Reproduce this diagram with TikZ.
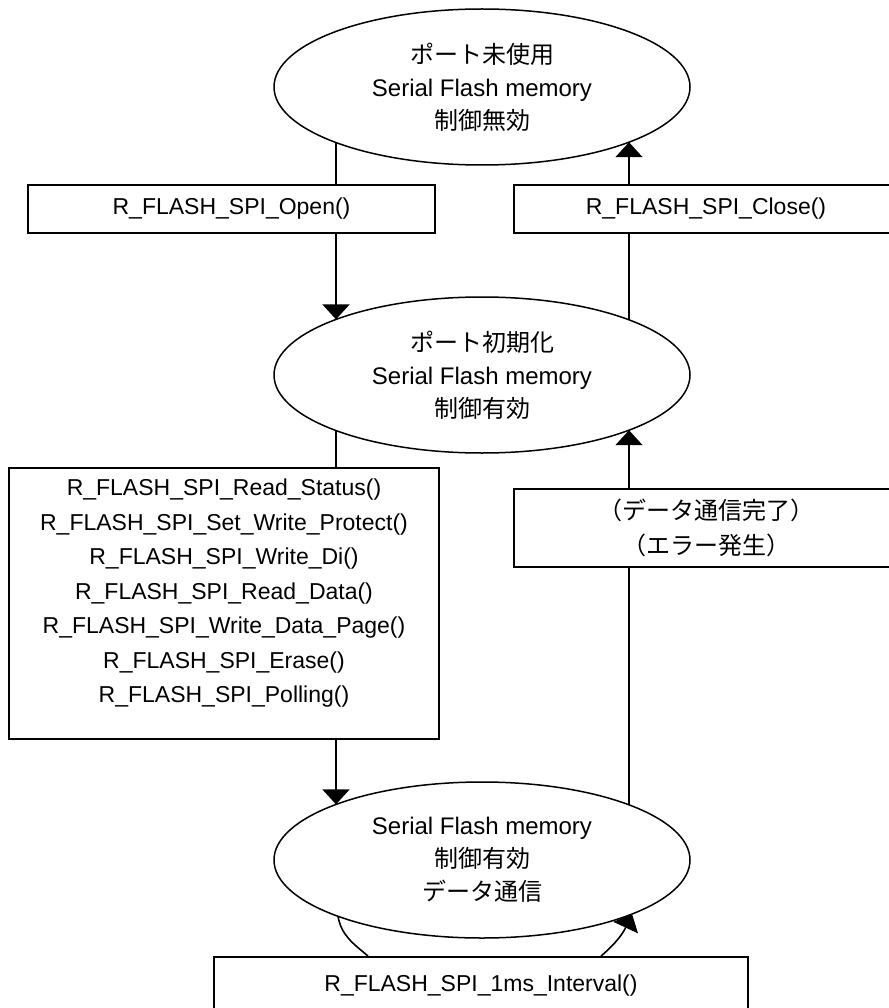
\documentclass[tikz,border=0pt]{standalone}
\usepackage{fontspec}
\setmainfont{Liberation Sans}
\newfontfamily\jp{Noto Sans CJK JP}
\usetikzlibrary{arrows.meta,shapes.geometric,calc}
\begin{document}
\begin{tikzpicture}[x=1pt,y=-1pt,
  state/.style={draw, line width=1.5pt, ellipse, minimum width=416pt, minimum height=156pt, inner sep=0pt, align=center, font=\fontsize{24}{33}\selectfont},
  fbox/.style={draw, line width=1.5pt, rectangle, inner sep=0pt, align=center, font=\fontsize{23}{34.5}\selectfont},
  conn/.style={line width=1.6pt},
  arr/.style={conn, -{Triangle[length=15pt,width=27pt]}}]
\useasboundingbox (0,0) rectangle (888,1008);
\fill[white] (0,0) rectangle (888,1008);

% states
\node[state] (s0) at (482,87) {{\jp ポート未使用}\\ Serial Flash memory\\ {\jp 制御無効}};
\node[state] (s1) at (482,375) {{\jp ポート初期化}\\ Serial Flash memory\\ {\jp 制御有効}};
\node[state] (s2) at (482,860) {Serial Flash memory\\ {\jp 制御有効}\\ {\jp データ通信}};

% boxes
\node[fbox, minimum width=407pt, minimum height=48pt] (open) at (231.5,209) {R\_FLASH\_SPI\_Open()};
\node[fbox, minimum width=384pt, minimum height=48pt] (close) at (706,209) {R\_FLASH\_SPI\_Close()};
\node[fbox, minimum width=430pt, minimum height=271pt] (rw) at (224,603.5) {};
\node[align=center, inner sep=0pt, font=\fontsize{23}{34.5}\selectfont] (rwtext) at ($(rw.center)+(0,-10)$) {R\_FLASH\_SPI\_Read\_Status()\\ R\_FLASH\_SPI\_Set\_Write\_Protect()\\ R\_FLASH\_SPI\_Write\_Di()\\ R\_FLASH\_SPI\_Read\_Data()\\ R\_FLASH\_SPI\_Write\_Data\_Page()\\ R\_FLASH\_SPI\_Erase()\\ R\_FLASH\_SPI\_Polling()};
\node[fbox, minimum width=384pt, minimum height=78pt] (done) at (706,528) {{\jp\fontsize{24}{33}\selectfont （データ通信完了）}\\ {\jp\fontsize{24}{33}\selectfont （エラー発生）}};
\node[fbox, minimum width=534pt, minimum height=58pt, anchor=north] (intv) at (481,956) {R\_FLASH\_SPI\_1ms\_Interval()};

% border points
\coordinate (p0l) at ($(s0.center)+(-146,55.6)$);
\coordinate (p0r) at ($(s0.center)+(147,55.2)$);
\coordinate (p1lt) at ($(s1.center)+(-146,-55.6)$);
\coordinate (p1rt) at ($(s1.center)+(147,-55.2)$);
\coordinate (p1lb) at ($(s1.center)+(-146,55.6)$);
\coordinate (p1rb) at ($(s1.center)+(147,55.2)$);
\coordinate (p2lt) at ($(s2.center)+(-146,-55.6)$);
\coordinate (p2rt) at ($(s2.center)+(147,-55.2)$);
\coordinate (p2lb) at ($(s2.center)+(-144,56.3)$);
\coordinate (p2rb) at ($(s2.center)+(150,54)$);
\coordinate (il) at ($(intv.north)+(-113,0)$);
\coordinate (ir) at ($(intv.north)+(120,0)$);

% connectors
\draw[conn] (p0l) -- (p0l |- open.north);
\draw[arr] (p0l |- open.south) -- (p1lt);
\draw[conn] (p1lb) -- (p1lb |- rw.north);
\draw[arr] (p1lb |- rw.south) -- (p2lt);
\draw[conn] (p2rt) -- (p2rt |- done.south);
\draw[arr] (p2rt |- done.north) -- (p1rb);
\draw[conn] (p1rt) -- (p1rt |- close.south);
\draw[arr] (p1rt |- close.north) -- (p0r);
\draw[conn] (p2lb) to[out=-80,in=140] (il);
\draw[arr] (ir) to[out=40,in=-115] (p2rb);
\end{tikzpicture}
\end{document}
